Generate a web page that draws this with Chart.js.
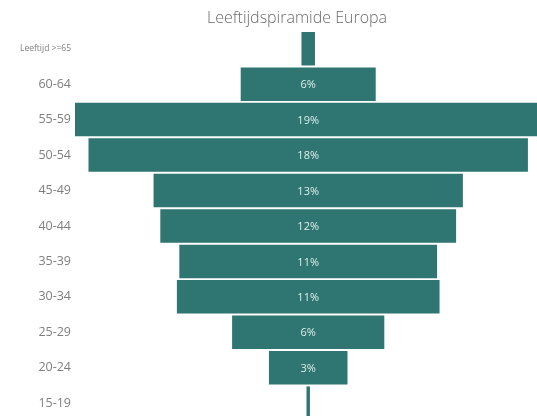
<!DOCTYPE html>
<html>
<head>
<meta charset="utf-8">
<script src="https://cdn.jsdelivr.net/npm/chart.js@4/dist/chart.umd.min.js"></script>
<style>
html,body{margin:0;padding:0;background:#fff;overflow:hidden;}
canvas{display:block;}
</style>
</head>
<body>
<canvas id="c" width="537" height="430" style="width:537px;height:430px"></canvas>
<script>
const chartTitle = 'Leeftijdspiramide Europa';
const categories = ['Leeftijd >=65','60-64','55-59','50-54','45-49','40-44','35-39','30-34','25-29','20-24','15-19'];
const shares = [0.55, 5.5, 19, 17.9, 12.6, 12.05, 10.5, 10.7, 6.2, 3.2, 0.14];

const barColor = '#2f7571';
const fontFamily = '"Open Sans", Lato, sans-serif';

const titlePlugin = {
  id: 'titleAt',
  afterDraw(chart) {
    const ctx = chart.ctx;
    ctx.save();
    ctx.font = '300 16px ' + fontFamily;
    ctx.fillStyle = '#6a6a6a';
    ctx.textAlign = 'center';
    ctx.textBaseline = 'middle';
    ctx.fillText(chartTitle, 297, 18);
    ctx.restore();
  }
};

const valueLabels = {
  id: 'valueLabels',
  afterDatasetsDraw(chart) {
    const ctx = chart.ctx;
    const meta = chart.getDatasetMeta(0);
    ctx.save();
    ctx.font = '11px ' + fontFamily;
    ctx.fillStyle = '#dcefec';
    ctx.textAlign = 'center';
    ctx.textBaseline = 'middle';
    meta.data.forEach((bar, i) => {
      const v = shares[i];
      if (v < 1) return;
      const p = bar.getProps(['x','base','y'], true);
      ctx.fillText(Math.round(v) + '%', (p.x + p.base) / 2, p.y + 1);
    });
    ctx.restore();
  }
};

new Chart(document.getElementById('c'), {
  type: 'bar',
  data: {
    labels: categories,
    datasets: [{
      data: shares.map(v => [-v / 2, v / 2]),
      backgroundColor: barColor,
      borderWidth: 0,
      barPercentage: 0.945,
      categoryPercentage: 1
    }]
  },
  options: {
    indexAxis: 'y',
    responsive: false,
    animation: false,
    layout: { padding: { top: 31, bottom: 0, left: 0, right: 0 } },
    plugins: {
      legend: { display: false },
      title: { display: false },
      tooltip: { enabled: false }
    },
    scales: {
      x: {
        type: 'linear',
        display: false,
        min: -9.5,
        max: 9.32
      },
      y: {
        grid: { display: false, drawTicks: false },
        border: { display: false },
        afterFit(scale) { scale.width = 75; },
        ticks: {
          padding: 4,
          color: '#7f7f7f',
          font: (ctx) => ({
            family: fontFamily,
            size: ctx.index === 0 ? 8.5 : 12.5
          })
        }
      }
    }
  },
  plugins: [titlePlugin, valueLabels]
});
</script>
</body>
</html>
